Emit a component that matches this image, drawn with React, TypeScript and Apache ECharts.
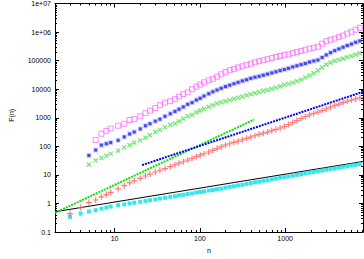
import React, { useEffect, useRef } from "react";
import * as echarts from "echarts";

// x grid (n) shared by the scatter series
const N = [3,4,5,6,7,8,9,11,13,15,17,20,23,26,30,34,39,45,51,57,64,72,81,91,101,112,127,142,159,178,200,224,251,281,315,353,395,443,496,555,622,697,780,874,979,1096,1228,1375,1540,1725,1932,2164,2424,2715,3040,3405,3814,4272,4784,5358,6001,6722,7528];

// magenta open squares (start at n=6)
const MAGENTA = [null,null,null,166,275,347,417,525,617,832,891,1122,1445,1778,2188,2754,3388,3802,4467,5495,6761,7762,10000,12300,14450,17380,20420,22910,27540,33110,39810,45710,51290,57540,63100,70790,77620,87100,95500,102300,112200,123000,134900,144500,154900,166000,182000,199500,218800,239900,263000,281800,309000,389000,478600,537000,588800,676100,758600,891300,1023000,1202000,1413000];

// blue asterisks (start at n=5)
const BLUE_STAR = [null,null,48,74,110,123,135,162,214,269,316,407,525,617,759,891,1122,1380,1660,1995,2399,2951,3388,4169,4786,5754,6918,8128,9333,10720,12300,13800,15490,17380,19500,21380,23990,26300,28180,30900,33880,37150,40740,44670,48980,53700,60260,66070,72440,79430,89130,97720,104700,128800,158500,190500,223900,257000,295100,338800,380200,436500,489800];

// green crosses (start at n=5)
const GREEN_X = [null,null,23,32,39,47,55,71,91,110,135,162,200,245,316,380,457,562,631,759,933,1122,1259,1549,1778,2042,2399,2754,3162,3467,3802,4169,4571,5012,5495,6026,6607,7244,7943,8710,9333,10230,11220,12590,14130,15490,16980,19050,21380,25700,30200,36310,45710,57540,72440,85110,97720,107200,117500,131800,144500,162200,182000];

// red plus
const RED_PLUS = [0.44,0.72,1.07,1.32,1.70,2.04,2.45,3.24,4.17,5.25,6.17,7.59,9.12,10.7,12.6,14.5,16.6,19.5,22.4,25.7,28.8,33.1,38.0,43.7,49.0,55.0,63.1,72.4,83.2,95.5,110,123,138,151,170,191,209,234,263,288,316,355,389,437,490,575,676,794,933,1096,1259,1413,1585,1778,2042,2344,2692,3020,3388,3802,4169,4571,5012];

// cyan filled squares
const CYAN = [0.34,0.44,0.52,0.58,0.66,0.72,0.78,0.87,0.93,1.0,1.06,1.14,1.22,1.29,1.38,1.48,1.58,1.70,1.78,1.91,2.0,2.14,2.24,2.40,2.51,2.63,2.82,2.95,3.16,3.31,3.55,3.80,3.98,4.27,4.47,4.79,5.13,5.50,5.75,6.17,6.46,6.92,7.41,7.94,8.32,8.71,9.33,10.0,10.5,11.2,12.0,12.6,13.2,14.1,15.1,15.8,16.6,17.8,19.1,20.0,21.4,22.4,24.0];

// fitted lines (end points)
const BLACK_LINE_N = [2, 8192];
const BLACK_LINE_F = [0.51, 29.5];
const GREEN_FIT_N = [2, 434];
const GREEN_FIT_F = [0.47, 863];
const BLUE_FIT_N = [21, 8192];
const BLUE_FIT_F = [22, 8100];

// axes
const X_MIN = 2;
const X_MAX = 8192;
const Y_MIN = 0.1;
const Y_MAX = 1e7;
const X_MAJOR = [10, 100, 1000];
const X_LABELS = ["10", "100", "1000"];
const Y_MAJOR = [0.1, 1, 10, 100, 1000, 10000, 100000, 1e6, 1e7];
const Y_LABELS = ["0.1", "1", "10", "100", "1000", "10000", "100000", "1e+06", "1e+07"];

function minorTicks(lo: number, hi: number): number[] {
  const out: number[] = [];
  for (let d = 0.1; d < hi; d *= 10) {
    for (let k = 2; k <= 9; k++) {
      const v = +(d * k).toPrecision(6);
      if (v >= lo && v <= hi) out.push(v);
    }
  }
  return out;
}

const pairs = (xs: number[], ys: (number | null)[]) =>
  xs.map((x, i) => [x, ys[i]]).filter((p) => p[1] !== null);

const FONT = "Liberation Sans, Arial, sans-serif";
const CROSS = "path://M4,0H6V4H10V6H6V10H4V6H0V4H4Z";

export default function App() {
  const ref = useRef<HTMLDivElement>(null);
  useEffect(() => {
    if (!ref.current) return;
    const chart = echarts.init(ref.current, undefined, { renderer: "svg" });
    const line = { color: "#000", width: 1 };
    const xMinor = minorTicks(X_MIN, X_MAX);
    const yMinor = minorTicks(Y_MIN, Y_MAX);
    const xLabel = (v: number) => {
      const i = X_MAJOR.findIndex((m) => Math.abs(m - v) / m < 1e-6);
      return i >= 0 ? X_LABELS[i] : "";
    };
    const yLabel = (v: number) => {
      const i = Y_MAJOR.findIndex((m) => Math.abs(m - v) / m < 1e-6);
      return i >= 0 ? Y_LABELS[i] : "";
    };
    const xAx = (pos: string, major: boolean, showLine: boolean, labels: boolean) => ({
      type: "log",
      min: X_MIN,
      max: X_MAX,
      position: pos,
      gridIndex: 0,
      axisLine: { show: showLine, lineStyle: line },
      axisTick: {
        show: true,
        inside: true,
        length: major ? 4 : 2,
        lineStyle: line,
        customValues: major ? X_MAJOR : xMinor,
      },
      axisLabel: {
        show: labels,
        customValues: X_MAJOR,
        formatter: xLabel,
        fontSize: 7,
        fontFamily: FONT,
        color: "#000",
        margin: 3,
      },
      splitLine: { show: false },
      minorTick: { show: false },
      ...(labels
        ? {
            name: "n",
            nameLocation: "middle",
            nameGap: 15,
            nameTextStyle: { fontSize: 7, fontFamily: FONT, color: "#000" },
          }
        : {}),
    });
    const yAx = (pos: string, major: boolean, showLine: boolean, labels: boolean) => ({
      type: "log",
      min: Y_MIN,
      max: Y_MAX,
      position: pos,
      gridIndex: 0,
      axisLine: { show: showLine, lineStyle: line },
      axisTick: {
        show: true,
        inside: true,
        length: major ? 4 : 2,
        lineStyle: line,
        customValues: major ? Y_MAJOR : yMinor,
      },
      axisLabel: {
        show: labels,
        customValues: Y_MAJOR,
        formatter: yLabel,
        fontSize: 7,
        fontFamily: FONT,
        color: "#000",
        margin: 4,
      },
      splitLine: { show: false },
      minorTick: { show: false },
      ...(labels
        ? {
            name: "F(n)",
            nameLocation: "middle",
            nameRotate: 90,
            nameGap: 40,
            nameTextStyle: { fontSize: 7, fontFamily: FONT, color: "#000", padding: [0, 0, 0, 5] },
          }
        : {}),
    });

    chart.setOption({
      animation: false,
      backgroundColor: "#fff",
      grid: { left: 46, right: 1, top: 3, bottom: 17, containLabel: false },
      xAxis: [
        xAx("bottom", true, true, true),
        xAx("bottom", false, false, false),
        xAx("top", true, true, false),
        xAx("top", false, false, false),
      ],
      yAxis: [
        yAx("left", true, true, true),
        yAx("left", false, false, false),
        yAx("right", true, true, false),
        yAx("right", false, false, false),
      ],
      series: [
        {
          type: "line",
          data: pairs(BLACK_LINE_N, BLACK_LINE_F),
          showSymbol: false,
          symbol: "none",
          lineStyle: { color: "#000", width: 1 },
          silent: true,
          z: 2,
        },
        {
          type: "scatter",
          data: pairs(N, CYAN),
          symbol: "rect",
          symbolSize: 4,
          itemStyle: { color: "#00e0ea" },
          silent: true,
          z: 3,
        },
        {
          type: "line",
          data: pairs(GREEN_FIT_N, GREEN_FIT_F),
          symbol: "none",
          lineStyle: { color: "#11dd11", width: 2, type: [2, 1] },
          silent: true,
          z: 3,
        },
        {
          type: "line",
          data: pairs(BLUE_FIT_N, BLUE_FIT_F),
          symbol: "none",
          lineStyle: { color: "#0000ee", width: 2, type: [2, 1] },
          silent: true,
          z: 4,
        },
        {
          type: "scatter",
          data: pairs(N, RED_PLUS),
          symbol: CROSS,
          symbolSize: 6,
          itemStyle: { color: "#ff5a5a" },
          silent: true,
          z: 5,
        },
        {
          type: "scatter",
          data: pairs(N, GREEN_X),
          symbol: CROSS,
          symbolRotate: 45,
          symbolSize: 6,
          itemStyle: { color: "#4ee04e" },
          silent: true,
          z: 5,
        },
        {
          type: "scatter",
          data: pairs(N, BLUE_STAR),
          symbol: "rect",
          symbolSize: 3,
          itemStyle: {
            color: "#1515e8",
            borderColor: "rgba(80,80,255,0.35)",
            borderWidth: 2,
          },
          silent: true,
          z: 5,
        },
        {
          type: "scatter",
          data: pairs(N, MAGENTA),
          symbol: "rect",
          symbolSize: 5,
          itemStyle: {
            color: "rgba(255,255,255,0)",
            borderColor: "#ff6cff",
            borderWidth: 1,
          },
          silent: true,
          z: 5,
        },
      ],
    });
    return () => chart.dispose();
  }, []);
  return (
    <div
      ref={ref}
      style={{ position: "absolute", left: 0, top: 0, width: 364, height: 259, background: "#fff" }}
    />
  );
}
